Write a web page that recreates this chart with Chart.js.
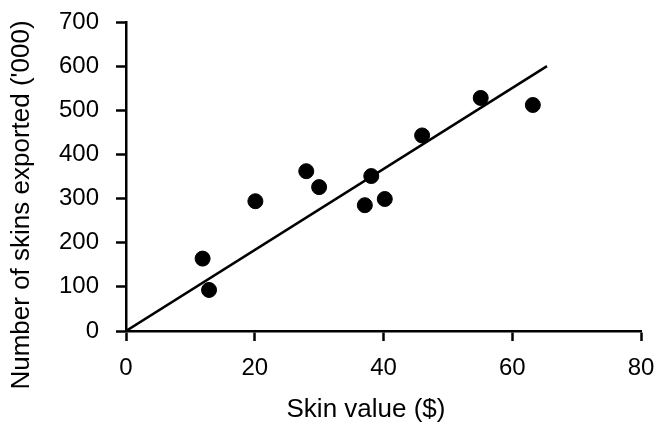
<!DOCTYPE html>
<html>
<head>
<meta charset="utf-8">
<script src="https://cdn.jsdelivr.net/npm/chart.js@4/dist/chart.umd.min.js"></script>
<style>
  html, body { margin: 0; padding: 0; background: #fff; }
  #wrap { width: 659px; height: 426px; }
</style>
</head>
<body>
<div id="wrap"><canvas id="c" width="659" height="426"></canvas></div>
<script>
// Skin value ($) against number of skins exported ('000)
const skinValue = [11.9, 12.9, 20.1, 28.0, 30.0, 37.1, 38.1, 40.2, 46.0, 55.1, 63.2];
const skinsExported = [164, 93, 294, 362, 326, 285, 351, 299, 443, 528, 512];

// fitted line through the origin
const fitX = [0, 65.4];
const fitY = [0, 600];

const xTicks = [0, 20, 40, 60, 80];
const yTicks = [0, 100, 200, 300, 400, 500, 600, 700];

const xTitle = 'Skin value ($)';
const yTitle = "Number of skins exported ('000)";

const FONT = '"Liberation Sans", Arial, Helvetica, sans-serif';

const points = skinValue.map((v, i) => ({ x: v, y: skinsExported[i] }));
const fitLine = fitX.map((v, i) => ({ x: v, y: fitY[i] }));

// axis titles placed by hand beside the plot
const axisTitles = {
  id: 'axisTitles',
  afterDraw(chart) {
    const ctx = chart.ctx;
    ctx.save();
    ctx.fillStyle = '#000';
    ctx.font = '26px ' + FONT;
    ctx.textAlign = 'center';
    ctx.textBaseline = 'middle';
    ctx.fillText(xTitle, 366, 410);
    ctx.translate(22, 205);
    ctx.rotate(-Math.PI / 2);
    ctx.fillText(yTitle, 0, 0);
    ctx.restore();
  }
};

new Chart(document.getElementById('c'), {
  type: 'scatter',
  data: {
    datasets: [
      {
        label: 'fit',
        data: fitLine,
        showLine: true,
        borderColor: '#000',
        borderWidth: 2.5,
        pointRadius: 0,
        fill: false,
        order: 2
      },
      {
        label: 'skins',
        data: points,
        backgroundColor: '#000',
        borderColor: '#000',
        pointRadius: 7.5,
        pointHoverRadius: 7.5,
        order: 1
      }
    ]
  },
  options: {
    responsive: false,
    animation: false,
    events: [],
    layout: { padding: { left: 0, top: 22, right: 18, bottom: 0 } },
    plugins: {
      legend: { display: false },
      tooltip: { enabled: false }
    },
    scales: {
      x: {
        type: 'linear',
        min: 0,
        max: 80,
        afterBuildTicks(scale) { scale.ticks = xTicks.map(v => ({ value: v })); },
        afterFit(scale) {
          scale.height = 426 - 331;
          scale.paddingLeft = 0;
          scale.paddingRight = 0;
        },
        border: { display: true, color: '#000', width: 2.5 },
        grid: { drawOnChartArea: false, drawTicks: true, tickLength: 10, tickColor: '#000', tickWidth: 2.5 },
        ticks: { color: '#000', font: { family: FONT, size: 24 }, padding: 13, maxRotation: 0 }
      },
      y: {
        type: 'linear',
        min: 0,
        max: 700,
        afterBuildTicks(scale) { scale.ticks = yTicks.map(v => ({ value: v })); },
        afterFit(scale) {
          scale.width = 126;
          scale.paddingTop = 0;
          scale.paddingBottom = 0;
        },
        border: { display: true, color: '#000', width: 2.5 },
        grid: { drawOnChartArea: false, drawTicks: true, tickLength: 10, tickColor: '#000', tickWidth: 2.5 },
        ticks: { color: '#000', font: { family: FONT, size: 24 }, padding: 17 }
      }
    }
  },
  plugins: [axisTitles]
});
</script>
</body>
</html>
